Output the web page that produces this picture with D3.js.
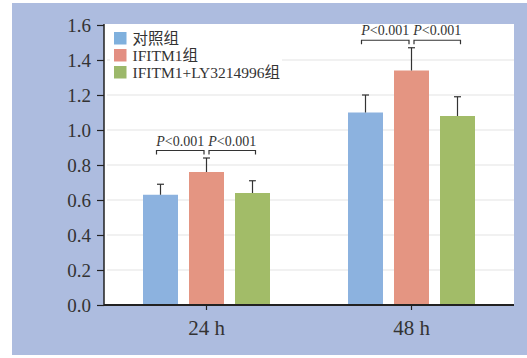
<!DOCTYPE html>
<html>
<head>
<meta charset="utf-8">
<script src="https://cdn.jsdelivr.net/npm/d3@7"></script>
<style>
  html, body { margin: 0; padding: 0; background: #ffffff; }
  svg { display: block; }
</style>
</head>
<body>
<svg id="chart" width="527" height="358"></svg>
<script>
// Time points and treatment groups
const timepoints = ["24 h", "48 h"];
const groups = ["对照组", "IFITM1组", "IFITM1+LY3214996组"];
const groupColors = ["#8cb2df", "#e49582", "#a2bc68"];
const legendColors = ["#7fb0dd", "#e38f82", "#9cb86a"];

// Mean values per group, indexed by time point
const controlMeans = [0.63, 1.10];
const ifitmMeans   = [0.76, 1.34];
const inhibitMeans = [0.64, 1.08];
// Upper error (SD)
const controlErr = [0.06, 0.10];
const ifitmErr   = [0.08, 0.13];
const inhibitErr = [0.07, 0.11];

const yTicks = [0.0, 0.2, 0.4, 0.6, 0.8, 1.0, 1.2, 1.4, 1.6];
const pLabel = "<0.001";

const means = [controlMeans, ifitmMeans, inhibitMeans];
const errs = [controlErr, ifitmErr, inhibitErr];

const svg = d3.select("#chart");
const serif = "'Liberation Serif', 'Times New Roman', 'Noto Sans CJK SC', serif";

// Outer panel
svg.append("rect").attr("x", 12).attr("y", 3).attr("width", 515).attr("height", 352)
  .attr("fill", "#adbcdf");

const plot = { left: 104, top: 24, right: 514, bottom: 305 };

svg.append("rect")
  .attr("x", plot.left).attr("y", plot.top)
  .attr("width", plot.right - plot.left).attr("height", plot.bottom - plot.top)
  .attr("fill", "#ffffff");

const y = d3.scaleLinear().domain([0, 1.6]).range([plot.bottom, 25]);
const x0 = d3.scaleBand().domain(timepoints).range([plot.left, plot.right]).padding(0);
const barW = 35, barStep = 46;
const barX = (ti, gi) => x0(timepoints[ti]) + x0.bandwidth() / 2 + (gi - 1) * barStep - barW / 2;
const barCx = (ti, gi) => barX(ti, gi) + barW / 2;

// Gridlines
svg.append("g").selectAll("line").data(yTicks.filter(d => d > 0 && d < 1.6)).join("line")
  .attr("x1", plot.left + 3).attr("x2", plot.right)
  .attr("y1", d => y(d)).attr("y2", d => y(d))
  .attr("stroke", "#e4e4e4").attr("stroke-width", 1.2);

// Legend (white box hides the grid behind it)
const legend = svg.append("g").attr("transform", "translate(114,32)");
legend.append("rect").attr("x", -4).attr("y", -2).attr("width", 172).attr("height", 50).attr("fill", "#ffffff");
groups.forEach((g, i) => {
  legend.append("rect").attr("x", 0).attr("y", i * 17).attr("width", 12.5).attr("height", 12.5)
    .attr("fill", legendColors[i]);
  legend.append("text").attr("x", 18.5).attr("y", i * 17 + 12)
    .style("font-family", serif).style("font-size", "15.5px").attr("fill", "#333")
    .text(g);
});

// Bars
timepoints.forEach((t, ti) => {
  groups.forEach((g, gi) => {
    const v = means[gi][ti];
    svg.append("rect")
      .attr("x", barX(ti, gi)).attr("y", y(v))
      .attr("width", barW).attr("height", y(0) - y(v))
      .attr("fill", groupColors[gi]);
    // Upper error bar
    const top = y(v + errs[gi][ti]);
    const cx = barCx(ti, gi);
    svg.append("line").attr("x1", cx).attr("x2", cx).attr("y1", y(v)).attr("y2", top)
      .attr("stroke", "#333").attr("stroke-width", 1.2);
    svg.append("line").attr("x1", cx - 3.5).attr("x2", cx + 3.5).attr("y1", top).attr("y2", top)
      .attr("stroke", "#333").attr("stroke-width", 1.2);
  });

  // Significance brackets over the IFITM1 bar
  const topErr = y(means[1][ti] + errs[1][ti]);
  const by = topErr - 7.5;
  const mid = barCx(ti, 1);
  const spans = [[barCx(ti, 0) - 4, mid - 2.5], [mid + 2.5, barCx(ti, 2) + 3]];
  spans.forEach(([a, b]) => {
    svg.append("path")
      .attr("d", `M${a},${by + 4}V${by}H${b}V${by + 4}`)
      .attr("fill", "none").attr("stroke", "#333").attr("stroke-width", 1.2);
    const txt = svg.append("text").attr("x", (a + b) / 2).attr("y", by - 5)
      .attr("text-anchor", "middle")
      .style("font-family", serif).style("font-size", "14px").attr("fill", "#333");
    txt.append("tspan").style("font-style", "italic").text("P");
    txt.append("tspan").text(pLabel);
  });
});

// Axes
const yAxis = d3.axisLeft(y).tickValues(yTicks).tickFormat(d3.format(".1f")).tickSize(7).tickPadding(6);
const gy = svg.append("g").attr("transform", `translate(${plot.left},0)`).call(yAxis);
gy.select(".domain").attr("d", `M0,${plot.top}V${plot.bottom}`).attr("stroke", "#222").attr("stroke-width", 1.5);
gy.selectAll(".tick line").attr("stroke", "#222").attr("stroke-width", 1.2);
gy.selectAll(".tick text").style("font-family", serif).style("font-size", "19px").attr("fill", "#333");

const xAxis = d3.axisBottom(x0).tickSize(5).tickPadding(10);
const gx = svg.append("g").attr("transform", `translate(0,${plot.bottom})`).call(xAxis);
gx.select(".domain").attr("d", `M${plot.left},0H${plot.right}`).attr("stroke", "#222").attr("stroke-width", 2);
gx.selectAll(".tick line").attr("stroke", "#222").attr("stroke-width", 1.2);
gx.selectAll(".tick text").style("font-family", serif).style("font-size", "21px").attr("fill", "#333");
</script>
</body>
</html>
